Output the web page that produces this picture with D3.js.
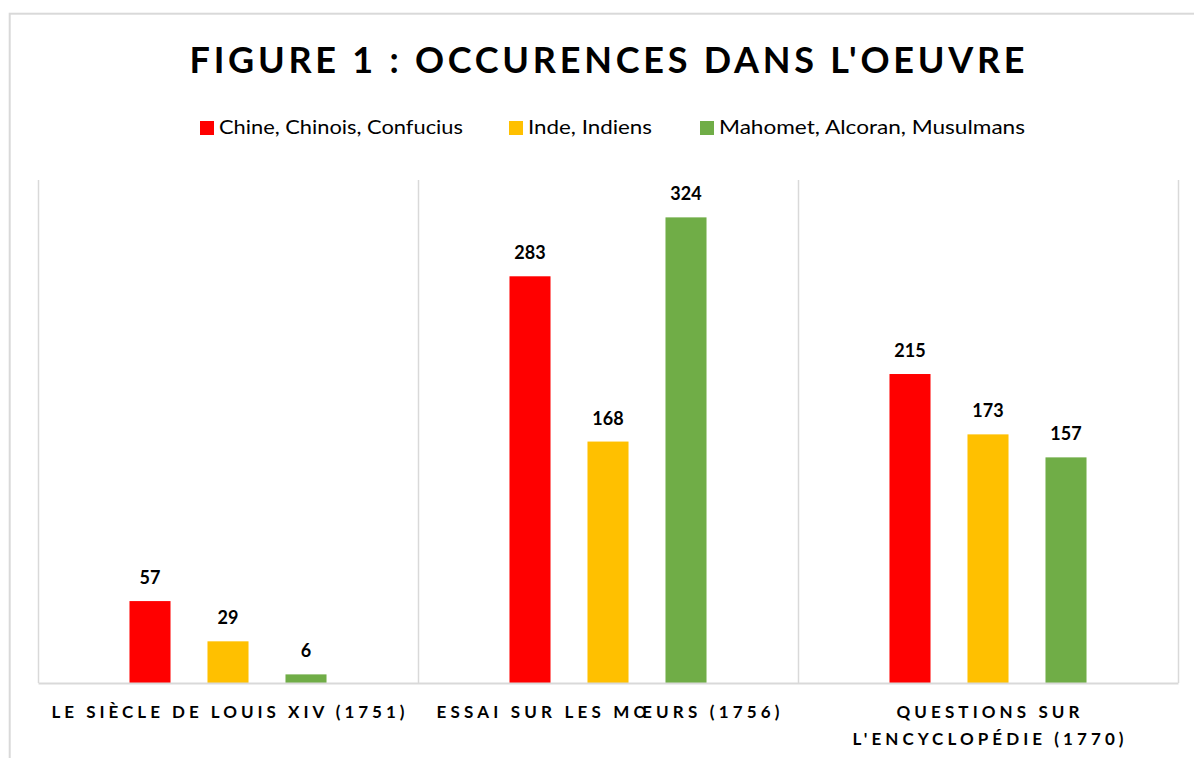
<!DOCTYPE html>
<html>
<head>
<meta charset="utf-8">
<script src="https://cdn.jsdelivr.net/npm/d3@7"></script>
<style>
  body { margin: 0; background: #fff; }
  text { font-family: Lato, "Open Sans", sans-serif; fill: #000; }
</style>
</head>
<body>
<div class="container"></div>
<script>
// data
const categories = ['siecle', 'essai', 'questions'];
const tickLabels = [
  ['LE SIÈCLE DE LOUIS XIV (1751)'],
  ['ESSAI SUR LES MŒURS (1756)'],
  ['QUESTIONS SUR', "L'ENCYCLOPÉDIE (1770)"],
];
const seriesNames = ['Chine, Chinois, Confucius', 'Inde, Indiens', 'Mahomet, Alcoran, Musulmans'];
const chineValues = [57, 283, 215];
const indeValues = [29, 168, 173];
const mahometValues = [6, 324, 157];
const seriesColors = ['#ff0000', '#ffc000', '#70ad47'];

const width = 1194, height = 758;
const plot = { left: 38, right: 1178, top: 180, bottom: 683 };

const series = seriesNames.map((name, i) => ({
  name,
  color: seriesColors[i],
  values: [chineValues, indeValues, mahometValues][i],
}));

const svg = d3.select('.container').append('svg')
  .attr('width', width)
  .attr('height', height);

// outer frame
svg.append('rect')
  .attr('x', 9.7).attr('y', 13.7)
  .attr('width', 1300).attr('height', 900)
  .attr('fill', '#fff')
  .attr('stroke', '#d9d9d9')
  .attr('stroke-width', 2);

// scales
const x = d3.scaleBand().domain(categories).range([plot.left, plot.right]).padding(0);
const x1 = d3.scaleBand().domain(seriesNames)
  .range([-117, 117])
  .paddingInner(0.474)
  .paddingOuter(0.237);
const y = d3.scaleLinear().domain([0, 350]).range([plot.bottom, plot.top]);

// category separators
const seps = d3.range(categories.length + 1).map(i => plot.left + i * x.step());
svg.append('g').selectAll('line')
  .data(seps)
  .join('line')
  .attr('x1', d => d + 0.5).attr('x2', d => d + 0.5)
  .attr('y1', plot.top).attr('y2', plot.bottom)
  .attr('stroke', '#d9d9d9')
  .attr('stroke-width', 1.5);

// bars
const groups = svg.append('g').selectAll('g')
  .data(categories)
  .join('g')
  .attr('transform', d => `translate(${x(d) + x.bandwidth() / 2},0)`);

groups.selectAll('rect')
  .data((d, i) => series.map(s => ({ name: s.name, color: s.color, value: s.values[i] })))
  .join('rect')
  .attr('x', d => x1(d.name))
  .attr('width', x1.bandwidth())
  .attr('y', d => y(d.value))
  .attr('height', d => y(0) - y(d.value))
  .attr('fill', d => d.color);

// value labels
groups.selectAll('text')
  .data((d, i) => series.map(s => ({ name: s.name, value: s.values[i] })))
  .join('text')
  .attr('x', d => x1(d.name) + x1.bandwidth() / 2)
  .attr('y', d => y(d.value) - 17)
  .attr('text-anchor', 'middle')
  .style('font-size', '18px')
  .style('font-weight', 'bold')
  .text(d => d.value);

// x axis
const xAxis = svg.append('g')
  .attr('transform', `translate(0,${plot.bottom})`)
  .call(d3.axisBottom(x).tickSize(0).tickSizeOuter(0).tickFormat(''));
xAxis.select('.domain').attr('stroke', '#d9d9d9').attr('stroke-width', 2);

const labelWidths = [[353], [343], [183, 271]];
xAxis.selectAll('.tick text')
  .each(function (d, i) {
    const t = d3.select(this)
      .attr('y', 0).attr('dy', null)
      .style('font-size', '17px')
      .style('font-weight', 'bold')
      .attr('fill', '#000');
    tickLabels[i].forEach((line, j) => {
      t.append('tspan')
        .attr('x', 0)
        .attr('y', 35 + j * 27)
        .attr('textLength', labelWidths[i][j])
        .attr('lengthAdjust', 'spacing')
        .text(line);
    });
  });

// title
svg.append('text')
  .attr('x', 607).attr('y', 73)
  .attr('text-anchor', 'middle')
  .attr('textLength', 835)
  .attr('lengthAdjust', 'spacing')
  .style('font-size', '36px')
  .style('font-weight', 'bold')
  .text("FIGURE 1 : OCCURENCES DANS L'OEUVRE");

// legend
const legendX = [200, 509, 700];
const legendW = [244, 124, 306];
const legend = svg.append('g').selectAll('g')
  .data(series)
  .join('g')
  .attr('transform', (d, i) => `translate(${legendX[i]},121)`);
legend.append('rect')
  .attr('width', 14).attr('height', 14)
  .attr('fill', d => d.color);
legend.append('text')
  .attr('x', 19).attr('y', 13)
  .attr('textLength', (d, i) => legendW[i])
  .attr('lengthAdjust', 'spacingAndGlyphs')
  .style('font-size', '20px')
  .text(d => d.name);
</script>
</body>
</html>
